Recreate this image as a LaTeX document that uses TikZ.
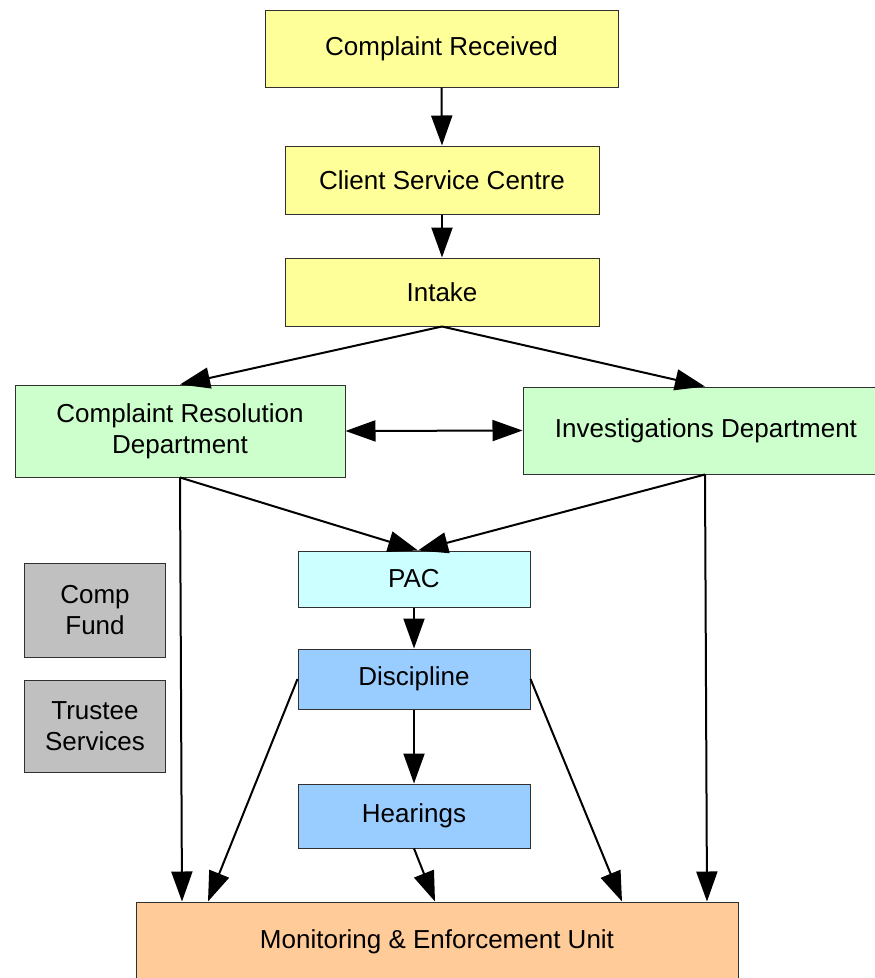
\documentclass[tikz,border=0pt]{standalone}
\usepackage{fontspec}
\setmainfont{Liberation Sans}
\usetikzlibrary{arrows.meta}
\definecolor{cyel}{HTML}{FFFF99}
\definecolor{cgrn}{HTML}{CCFFCC}
\definecolor{ccya}{HTML}{CCFFFF}
\definecolor{cblu}{HTML}{99CCFF}
\definecolor{cgry}{HTML}{C0C0C0}
\definecolor{cora}{HTML}{FFCC99}
\definecolor{cbrd}{HTML}{303030}
\tikzset{
  box/.style={draw=cbrd, line width=1pt, rectangle, inner sep=0pt, align=center,
    font=\fontsize{26}{31}\selectfont},
  conn/.style={line width=2pt, -{Triangle[length=30pt,width=21pt]}},
  dconn/.style={line width=2pt, {Triangle[length=30pt,width=21pt]}-{Triangle[length=30pt,width=21pt]}},
}
\begin{document}
\begin{tikzpicture}[x=1pt,y=-1pt]
\useasboundingbox (0,0) rectangle (875,978);
\begin{scope}
\clip (0,0) rectangle (875,978);
\node[box, fill=cyel, minimum width=353pt, minimum height=77pt] (cr) at (441.5,48.5) {Complaint Received};
\node[box, fill=cyel, minimum width=314pt, minimum height=68pt] (csc) at (442,180) {Client Service Centre};
\node[box, fill=cyel, minimum width=314pt, minimum height=68pt] (in) at (442,292) {Intake};
\node[box, fill=cgrn, minimum width=330pt, minimum height=92pt] (crd) at (180,431) {Complaint Resolution\\Department};
\node[box, fill=cgrn, minimum width=352pt, minimum height=87pt] (id) at (699,430.5) {\hspace*{14pt}Investigations Department};
\node[box, fill=ccya, minimum width=232pt, minimum height=56pt] (pac) at (414,579) {PAC};
\node[box, fill=cblu, minimum width=232pt, minimum height=60pt] (dis) at (414,679) {Discipline};
\node[box, fill=cblu, minimum width=232pt, minimum height=64pt] (hear) at (414,816) {Hearings};
\node[box, fill=cgry, minimum width=141pt, minimum height=94pt] (cf) at (95,610) {Comp\\Fund};
\node[box, fill=cgry, minimum width=141pt, minimum height=92pt] (ts) at (95,726) {Trustee\\Services};
\node[box, fill=cora, minimum width=602pt, minimum height=90pt] (meu) at (437,947) {};
\node[font=\fontsize{26}{31}\selectfont] (meut) at (437,942) {Monitoring \& Enforcement Unit};
\end{scope}
\draw[conn] (cr.south) -- (csc.north);
\draw[conn] (csc.south) -- (in.north);
\draw[conn] (in.south) -- (crd.north);
\draw[conn] (in.south) -- ([xshift=6pt]id.north);
\draw[dconn] (crd.east) -- (id.west);
\draw[conn] (crd.south) -- ([xshift=4pt]pac.north);
\draw[conn] ([xshift=6pt]id.south) -- ([xshift=4pt]pac.north);
\draw[conn] (crd.south) -- ([xshift=-255pt]meu.north);
\draw[conn] ([xshift=6pt]id.south) -- ([xshift=270pt]meu.north);
\draw[conn] (pac.south) -- (dis.north);
\draw[conn] (dis.south) -- (hear.north);
\draw[conn] (dis.west) -- ([xshift=-229pt]meu.north);
\draw[conn] (dis.east) -- ([xshift=185pt]meu.north);
\draw[conn] (hear.south) -- ([xshift=-2pt]meu.north);
\end{tikzpicture}
\end{document}
